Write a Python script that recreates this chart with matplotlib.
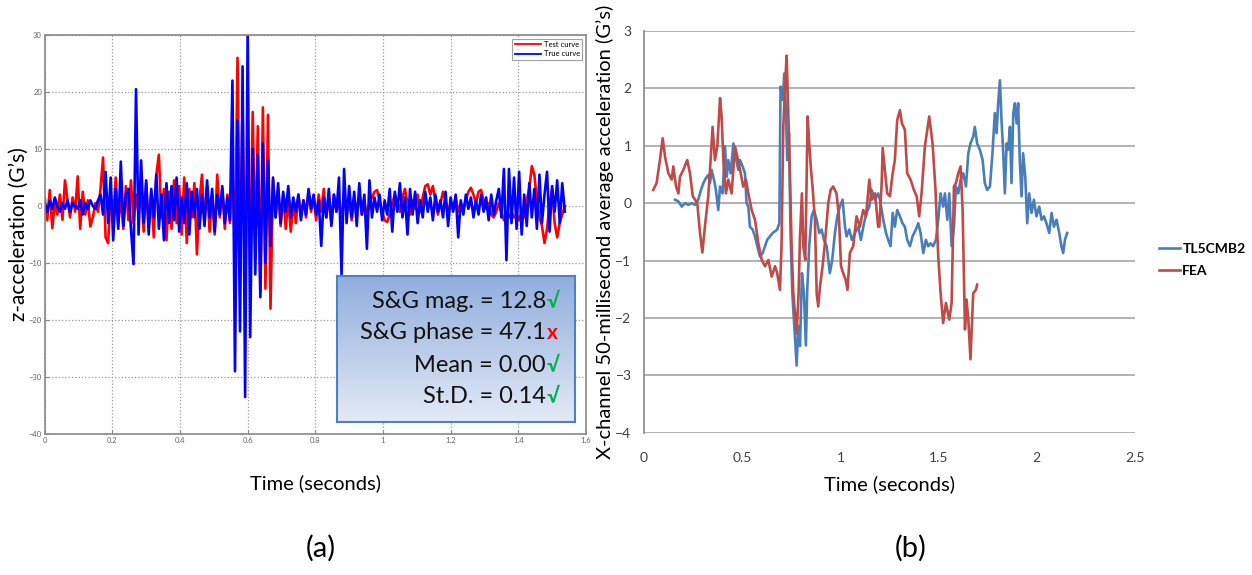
import numpy as np
import matplotlib.pyplot as plt

# ---------------- panel (a): test curve vs true curve (sampled every 7.5 ms) ----------------
dt_a = 0.0075
test_curve = [
    1.5, -2.5, 2.8, -3.9, 0.5, -1.5, 2.0, -2.4, 4.5, 1.0,
    -2.0, 1.5, -1.0, 5.2, -4.0, 2.5, -1.5, 1.0, -3.6, -2.0,
    0.5, -1.0, 3.0, 8.5, -5.5, -6.5, 2.0, -2.0, 5.0, -3.0,
    1.5, -4.0, 3.5, -2.5, 4.5, -3.0, 2.0, -1.5, 3.0, -4.5,
    4.0, -3.5, 2.5, -5.5, 5.5, 9.0, -2.0, 3.0, -6.0, 2.5,
    -4.0, 4.5, -3.0, 3.5, -5.0, 5.0, -6.5, 3.0, -2.0, 4.0,
    -8.5, 1.0, 5.5, -3.0, 3.5, -4.5, 2.0, -5.0, 5.5, -2.0,
    3.0, -4.0, 2.0, -3.0, 6.0, -8.0, 26.0, -12.0, 18.0, -17.0,
    12.0, -10.0, 16.5, -8.0, 14.0, -15.0, 17.3, -14.5, 16.0, -18.0,
    4.5, -2.0, 3.0, -3.5, 2.0, -4.0, 1.5, -4.5, 0.5, -3.0,
    2.0, -1.5, 1.0, -2.0, 2.5, -1.0, 1.5, -2.5, 2.0, -1.0,
    3.0, -2.0, 1.5, -3.0, 2.0, -1.0, 0.5, -2.0, 2.5, -1.5,
    1.0, -2.5, 1.5, -1.0, 2.0, -1.5, 1.0, -2.0, 0.5, 1.5,
    2.5, 2.8, 1.0, -1.0, -2.5, -2.8, -1.5, 0.5, 2.0, 1.0,
    -1.0, 1.5, 3.0, 0.5, -1.5, 1.0, -0.5, 2.0, -1.0, 1.5,
    3.5, 3.8, 2.0, 3.5, 1.0, -1.5, 0.5, 2.5, 1.0, -1.0,
    0.5, -0.5, 1.5, -1.0, 0.5, -0.5, 1.0, 2.5, 3.2, 2.0,
    0.5, 2.5, 2.8, 1.0, -0.5, 0.5, -1.5, -2.0, -1.0, 0.5,
    -1.0, -2.5, -1.5, -2.0, -1.0, -2.0, -1.5, -2.5, -1.0, -2.0,
    1.0, 3.0, 7.0, 5.5, 1.0, -2.0, -3.5, -6.5, -4.0, 0.5,
    3.0, -3.0, -5.5, -3.0, -1.5, 0.0,
]
true_curve = [
    0.5, -1.0, 1.0, -0.5, 1.5, 0.0, -1.0, 0.5, -0.5, 1.0,
    -1.0, 0.5, 0.0, -0.5, 1.0, -1.5, 0.5, -0.5, 1.0, 0.0,
    -0.5, 1.0, 2.0, -1.5, 6.0, -3.0, 5.0, -6.0, 3.0, -4.0,
    7.8, -3.5, 2.0, 3.0, -4.0, -10.2, 20.5, -5.0, 8.0, -3.0,
    4.5, -5.0, 3.0, -2.0, 5.5, -4.0, 2.0, -6.0, 4.0, -3.0,
    3.5, -2.5, 5.0, -4.5, 1.5, -3.0, 4.0, -5.0, 2.5, -2.0,
    3.0, -4.0, 2.0, -3.5, 4.5, -2.0, 3.0, -4.5, 2.0, -1.5,
    3.5, -3.0, 1.5, -2.5, 22.0, -29.0, 15.0, -22.0, 24.5, -33.5,
    31.0, -23.0, 10.0, -12.0, 9.0, -16.0, 11.0, -10.0, 8.0, -7.0,
    5.0, -2.0, 4.0, -3.0, 2.5, -1.0, 3.5, -2.0, 1.5, -1.0,
    2.0, -2.5, 1.0, -1.5, 3.0, -0.5, 2.0, -1.5, 1.0, -7.0,
    1.5, -2.0, 3.0, -3.5, 2.0, -1.0, 5.0, -12.0, 6.5, -3.0,
    3.5, -2.0, 2.5, -3.5, 4.0, -1.5, 2.0, -7.5, 4.5, -2.0,
    1.5, -1.0, 2.0, -2.5, 1.0, -1.5, 3.0, -4.5, 2.5, -1.0,
    4.0, -2.0, 1.5, -5.0, 3.0, -1.5, 2.5, -3.0, 1.0, -2.0,
    2.5, -1.0, 1.5, -2.5, 2.0, -1.0, 1.0, -2.0, 2.5, -3.5,
    1.5, -1.0, 2.0, -5.5, 1.0, -1.5, 2.0, -0.5, 1.5, -2.0,
    1.0, -1.5, 2.0, -1.0, 1.5, -2.5, 2.0, -1.5, 1.0, 3.0,
    -2.0, 6.5, -9.5, 6.5, -3.0, 5.0, -4.0, 6.0, -5.0, 2.0,
    -3.5, 4.0, -2.0, 3.0, -4.0, 5.5, -3.0, 2.0, 6.0, -4.5,
    3.5, -1.0, 4.5, -3.0, 4.0, -1.0,
]
t_test = np.arange(len(test_curve)) * dt_a
t_true = np.arange(len(true_curve)) * dt_a

# ---------------- panel (b): 50 ms averages, TL5CMB2 test vs FEA ----------------
fea_t = [0.047, 0.064, 0.081, 0.095, 0.107, 0.124, 0.141, 0.149, 0.163, 0.175,
         0.183, 0.200, 0.220, 0.234, 0.248, 0.260, 0.271, 0.285, 0.297, 0.310,
         0.327, 0.339, 0.349, 0.361, 0.373, 0.387, 0.395, 0.404, 0.417, 0.429,
         0.446, 0.463, 0.475, 0.489, 0.505, 0.519, 0.531, 0.548, 0.565, 0.582,
         0.599, 0.616, 0.633, 0.650, 0.667, 0.678, 0.692, 0.700, 0.709, 0.718,
         0.726, 0.734, 0.743, 0.751, 0.760, 0.770, 0.777, 0.787, 0.794, 0.804,
         0.811, 0.821, 0.833, 0.841, 0.850, 0.858, 0.870, 0.879, 0.887, 0.896,
         0.909, 0.921, 0.938, 0.950, 0.963, 0.980, 0.992, 1.003, 1.014, 1.026,
         1.036, 1.048, 1.065, 1.082, 1.099, 1.116, 1.130, 1.147, 1.159, 1.176,
         1.192, 1.198, 1.210, 1.215, 1.226, 1.238, 1.252, 1.266, 1.277, 1.289,
         1.303, 1.313, 1.328, 1.340, 1.357, 1.374, 1.388, 1.401, 1.413, 1.430,
         1.452, 1.469, 1.484, 1.498, 1.510, 1.523, 1.537, 1.554, 1.566, 1.578,
         1.588, 1.600, 1.612, 1.622, 1.634, 1.642, 1.651, 1.662, 1.676, 1.690,
         1.696]
fea_v = [0.23, 0.35, 0.75, 1.13, 0.81, 0.52, 0.41, 0.64, 0.29, 0.17,
         0.46, 0.58, 0.75, 0.52, 0.12, 0.06, 0.00, -0.52, -0.86, -0.41,
         0.12, 0.75, 1.33, 0.75, 0.99, 1.83, 1.51, 0.75, 0.17, 0.41,
         0.17, 0.99, 0.81, 0.58, 0.29, 0.41, 0.17, -0.12, -0.29, -0.70,
         -0.99, -1.10, -0.99, -1.28, -1.10, -1.22, -1.51, -0.75, 1.33, 2.03,
         2.57, 1.62, 0.46, -0.70, -1.57, -1.97, -2.27, -1.57, -0.58, 0.17,
         -0.75, -0.99, 1.51, 1.04, 0.58, 0.29, -0.29, -1.57, -1.80, -1.45,
         -1.10, -0.70, 0.00, 0.23, 0.29, 0.17, -0.23, -1.10, -1.22, -1.33,
         -1.51, -0.87, -0.75, -0.23, -0.41, -0.12, -0.23, 0.41, 0.06, 0.17,
         -0.41, -0.41, 0.35, 0.96, 0.58, 0.17, 0.12, 0.52, 0.75, 1.45,
         1.62, 1.39, 1.28, 0.52, 0.41, 0.23, 0.12, -0.23, 0.17, 0.99,
         1.51, 1.04, 0.23, -0.93, -1.57, -2.09, -1.74, -2.03, -1.74, 0.29,
         0.35, 0.52, 0.64, -0.12, -2.20, -1.68, -2.03, -2.72, -1.57, -1.51,
         -1.42]
tl_t = [0.158, 0.175, 0.192, 0.209, 0.225, 0.243, 0.260, 0.276, 0.290, 0.302,
        0.314, 0.327, 0.336, 0.344, 0.356, 0.366, 0.378, 0.387, 0.400, 0.412,
        0.421, 0.429, 0.441, 0.455, 0.466, 0.480, 0.489, 0.502, 0.514, 0.522,
        0.531, 0.539, 0.553, 0.565, 0.577, 0.590, 0.604, 0.616, 0.627, 0.641,
        0.655, 0.667, 0.678, 0.689, 0.695, 0.706, 0.714, 0.722, 0.729, 0.738,
        0.746, 0.755, 0.763, 0.770, 0.777, 0.785, 0.794, 0.804, 0.814, 0.824,
        0.831, 0.841, 0.853, 0.865, 0.879, 0.892, 0.904, 0.916, 0.930, 0.946,
        0.958, 0.972, 0.984, 0.997, 1.011, 1.023, 1.031, 1.045, 1.058, 1.074,
        1.091, 1.104, 1.120, 1.133, 1.147, 1.159, 1.176, 1.192, 1.201, 1.218,
        1.232, 1.243, 1.255, 1.266, 1.277, 1.289, 1.303, 1.316, 1.328, 1.340,
        1.354, 1.367, 1.384, 1.396, 1.408, 1.422, 1.435, 1.447, 1.459, 1.472,
        1.486, 1.498, 1.510, 1.523, 1.532, 1.544, 1.554, 1.566, 1.578, 1.588,
        1.600, 1.612, 1.625, 1.639, 1.651, 1.662, 1.676, 1.684, 1.696, 1.710,
        1.724, 1.735, 1.747, 1.761, 1.774, 1.786, 1.795, 1.803, 1.812, 1.820,
        1.829, 1.837, 1.846, 1.854, 1.863, 1.871, 1.880, 1.888, 1.897, 1.905,
        1.913, 1.922, 1.930, 1.941, 1.951, 1.961, 1.973, 1.985, 1.998, 2.012,
        2.024, 2.036, 2.049, 2.063, 2.075, 2.087, 2.100, 2.114, 2.125, 2.134,
        2.143, 2.154]
tl_v = [0.06, 0.03, -0.06, 0.00, -0.03, 0.00, -0.03, 0.06, 0.23, 0.35,
        0.43, 0.49, 0.35, 0.58, 0.41, 0.23, -0.12, 0.29, 0.17, 0.99,
        0.46, 0.75, 0.52, 1.04, 0.81, 0.58, 0.75, 0.64, 0.52, 0.00,
        -0.06, -0.41, -0.46, -0.58, -0.75, -0.93, -0.87, -0.75, -0.64, -0.58,
        -0.52, -0.49, -0.46, -0.35, 2.03, 1.80, 2.26, 1.62, 0.75, 1.22,
        -0.52, -1.57, -2.03, -2.43, -2.83, -2.14, -2.49, -1.22, -1.57, -2.48,
        -1.51, -0.75, -0.23, -0.12, -0.29, -0.52, -0.46, -0.64, -0.75, -1.22,
        -0.99, -0.52, -0.23, -0.06, 0.06, -0.41, -0.58, -0.46, -0.64, -0.52,
        -0.41, -0.64, -0.35, -0.17, -0.06, 0.23, 0.06, 0.17, 0.06, -0.29,
        -0.52, -0.64, -0.75, -0.17, -0.41, -0.12, -0.23, -0.35, -0.41, -0.64,
        -0.75, -0.58, -0.46, -0.35, -0.52, -0.87, -0.64, -0.75, -0.70, -0.75,
        -0.64, -0.29, 0.17, -0.06, 0.17, -0.29, 0.17, -0.75, -0.41, 0.29,
        0.17, 0.41, 0.52, 0.29, 0.87, 1.04, 1.16, 1.33, 1.04, 0.93,
        0.75, 0.35, 0.23, 0.29, 0.87, 1.57, 1.22, 1.74, 2.14, 1.45,
        0.87, 0.17, 1.04, 0.93, 1.33, 0.35, 1.57, 1.74, 1.39, 1.74,
        0.75, 0.12, 0.87, 0.46, -0.35, 0.17, -0.17, 0.06, -0.23, -0.06,
        -0.29, -0.23, -0.35, -0.52, -0.17, -0.41, -0.29, -0.52, -0.75, -0.87,
        -0.64, -0.52]

tl_color = '#4A7EBB'
fea_color = '#BE4B48'
plt.rcParams['font.family'] = ['Lato', 'DejaVu Sans']

fig = plt.figure(figsize=(12.52, 5.75), dpi=100)

# ---------------- (a) ----------------
ax1 = fig.add_axes([0.0357, 0.2452, 0.4323, 0.6939])
ax1.plot(t_test, test_curve, color='#FF0000', lw=1.9, label='Test curve')
ax1.plot(t_true, true_curve, color='#0000FF', lw=1.9, label='True curve')
ax1.set_xlim(0, 1.6)
ax1.set_ylim(-40, 30)
ax1.set_xticks(np.arange(0, 1.61, 0.2))
ax1.set_xticklabels(['0', '0.2', '0.4', '0.6', '0.8', '1', '1.2', '1.4', '1.6'])
ax1.set_yticks(np.arange(-40, 31, 10))
ax1.tick_params(direction='in', labelsize=5.5, labelcolor='#666666', length=3,
                color='#888888', pad=2)
ax1.grid(True, linestyle=':', color='#999999', lw=0.9)
for s in ax1.spines.values():
    s.set_color('#888888')
    s.set_linewidth(1.2)
leg1 = ax1.legend(loc='upper right', fontsize=5.5, frameon=True, fancybox=False,
                  edgecolor='#888888', handlelength=3.5, borderpad=0.3,
                  labelspacing=0.3, handletextpad=0.3)
leg1.get_frame().set_linewidth(0.8)
for h in leg1.get_lines():
    h.set_linewidth(1.3)
ax1.set_ylabel("z-acceleration (G’s)", fontsize=15, labelpad=0)
ax1.set_xlabel("Time (seconds)", fontsize=14.5, labelpad=22)

# gradient info box
bx = fig.add_axes([0.2692, 0.2666, 0.1901, 0.2534])
grad = np.linspace(0, 1, 100).reshape(-1, 1)
top = np.array([0.565, 0.682, 0.867])
bot = np.array([0.890, 0.918, 0.965])
img = top + (bot - top) * grad[:, :, None] * np.ones((1, 2, 1))
bx.imshow(img, aspect='auto', extent=[0, 1, 0, 1], origin='upper')
bx.set_xlim(0, 1)
bx.set_ylim(0, 1)
bx.set_xticks([])
bx.set_yticks([])
for s in bx.spines.values():
    s.set_color('#4F81BD')
    s.set_linewidth(1.5)
rows = [("S&G mag. = 12.8", "√", '#00B050'),
        ("S&G phase = 47.1", "x", '#FF0000'),
        ("Mean = 0.00", "√", '#00B050'),
        ("St.D. = 0.14", "√", '#00B050')]
row_y = [0.824, 0.609, 0.389, 0.172]
for (txt, mark, col), yy in zip(rows, row_y):
    bx.text(0.878, yy, txt, ha='right', va='center', fontsize=17, color='#111111')
    bx.text(0.880, yy, mark, ha='left', va='center', fontsize=15, color=col,
            fontweight='bold')

# ---------------- (b) ----------------
ax2 = fig.add_axes([0.5144, 0.2475, 0.3922, 0.6986])
ax2.plot(tl_t, tl_v, color=tl_color, lw=1.9, label='TL5CMB2')
ax2.plot(fea_t, fea_v, color=fea_color, lw=1.9, label='FEA')
ax2.set_xlim(0, 2.5)
ax2.set_ylim(-4, 3)
ax2.set_xticks([0, 0.5, 1, 1.5, 2, 2.5])
ax2.set_xticklabels(['0', '0.5', '1', '1.5', '2', '2.5'])
ax2.set_yticks(range(-4, 4))
ax2.tick_params(length=0, labelsize=10, labelcolor='#404040')
ax2.tick_params(axis='x', pad=14)
ax2.tick_params(axis='y', pad=9)
ax2.yaxis.grid(True, color='#A6A6A6', lw=1.2)
ax2.set_axisbelow(True)
for side in ['top', 'right', 'bottom']:
    ax2.spines[side].set_visible(False)
ax2.spines['left'].set_color('#888888')
ax2.spines['left'].set_linewidth(1.2)
ax2.set_ylabel("X-channel 50-millisecond average acceleration (G’s)", fontsize=14.5,
               labelpad=1)
ax2.set_xlabel("Time (seconds)", fontsize=14.5, labelpad=8)
ax2.legend(loc='upper left', bbox_to_anchor=(1.034, 0.49), frameon=False,
           handlelength=1.5, handletextpad=0.2, borderpad=0, labelspacing=0.7,
           prop={'weight': 'bold', 'size': 10})

fig.text(0.256, 0.047, "(a)", fontsize=21, ha='center', va='center')
fig.text(0.727, 0.047, "(b)", fontsize=21, ha='center', va='center')

fig.savefig('out.png', dpi=100)
